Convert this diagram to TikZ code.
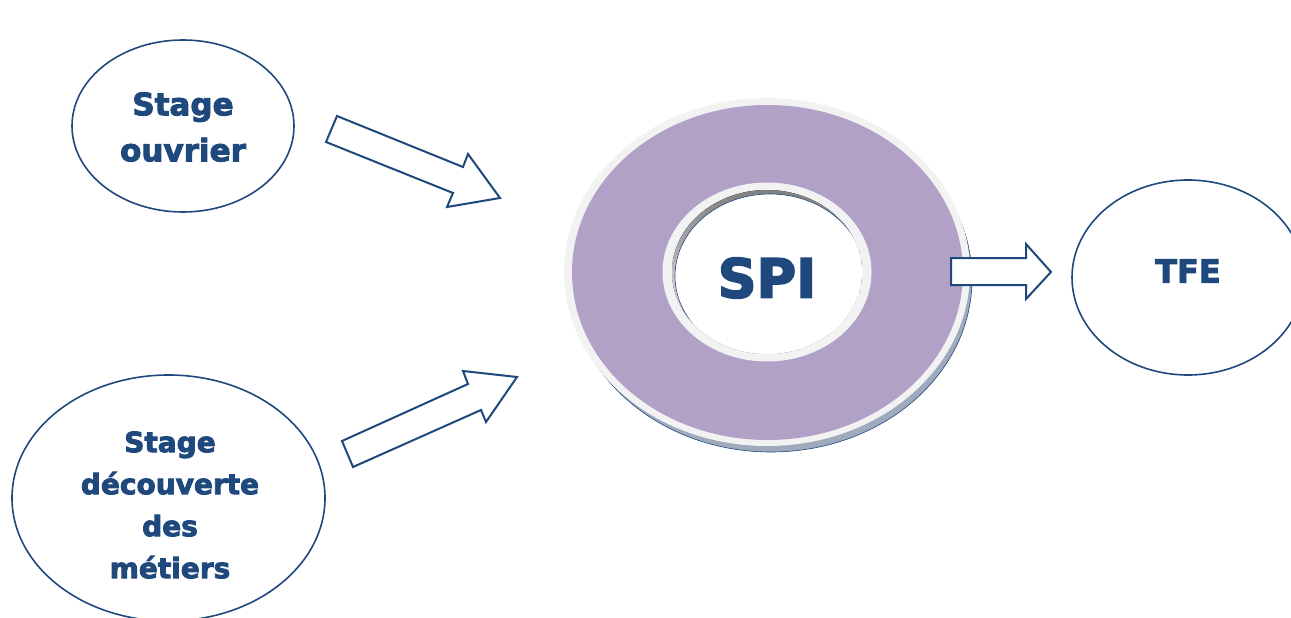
\documentclass[tikz,border=0pt]{standalone}
\usepackage{fontspec}
\newfontfamily\lbl[BoldFeatures={FakeBold=3}]{DejaVu Sans}
\definecolor{dblue}{HTML}{1F497D}
\definecolor{ringpurple}{HTML}{B1A1C7}
\definecolor{ringgray}{HTML}{F2F2F2}
\definecolor{shade}{HTML}{9FAABD}
\begin{document}
\begin{tikzpicture}[x=1pt,y=-1pt,
  bubble/.style={draw=dblue,line width=1.6pt,fill=white},
  lbltext/.style={text=dblue,align=center,inner sep=0pt},
  blockarrow/.style={draw=dblue,line width=2pt,fill=white,line join=miter}]
\useasboundingbox (0,0) rectangle (1291,618);
% left bubbles
\draw[bubble] (183,126) ellipse [x radius=111,y radius=86];
\node[lbltext,font={\lbl\bfseries\fontsize{31}{46}\selectfont}] (ouvrier) at (183,127) {Stage\\ouvrier};
\draw[bubble] (168.5,498) ellipse [x radius=156.5,y radius=123];
\node[lbltext,font={\lbl\bfseries\fontsize{28}{42}\selectfont}] (decouverte) at (170,505) {Stage\\découverte\\des\\métiers};
% TFE bubble
\draw[bubble] (1188,277.5) ellipse [x radius=116,y radius=97.5];
\node[lbltext,font={\lbl\bfseries\fontsize{32}{40}\selectfont}] (tfe) at (1188,271) {TFE};
% SPI ring
\draw[draw=dblue,line width=0.6pt,fill=shade] (771,279) ellipse [x radius=201,y radius=173];
\fill[ringgray] (767,272) ellipse [x radius=203,y radius=174];
\fill[ringpurple] (767.5,272.5) ellipse [x radius=195.5,y radius=167.5];
\fill[ringgray] (767,272) ellipse [x radius=104.5,y radius=89.5];
\begin{scope}
  \clip (767,272) ellipse [x radius=95,y radius=82];
  \fill[shade] (767,272) ellipse [x radius=95,y radius=82];
  \draw[draw=dblue,line width=0.6pt,fill=white] (770,276) ellipse [x radius=95,y radius=82];
\end{scope}
\node[lbltext,font={\lbl\bfseries\fontsize{54}{60}\selectfont}] (spi) at (767,278) {SPI};
% block arrows
\draw[blockarrow] (337,116) -- (463,167) -- (468,154) -- (500,198) -- (447,207) -- (453,193) -- (326,142) -- cycle;
\draw[blockarrow] (353,467) -- (481,410) -- (486,422) -- (517,377) -- (463,371) -- (468,384) -- (342,441) -- cycle;
\draw[blockarrow] (951,258) -- (1026,258) -- (1026,244) -- (1051,272) -- (1026,299) -- (1026,285) -- (951,285) -- cycle;
\end{tikzpicture}
\end{document}
